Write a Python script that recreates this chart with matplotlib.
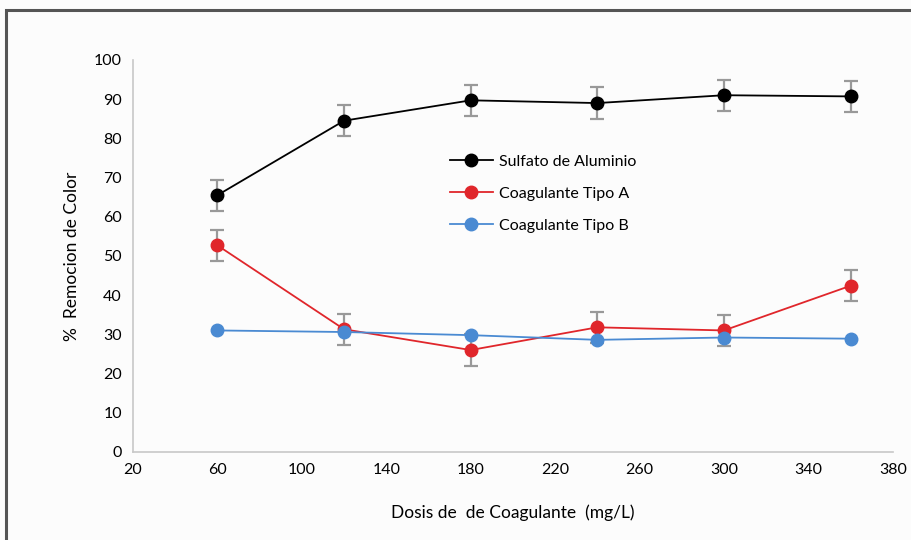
import matplotlib.pyplot as plt
from matplotlib.patches import Rectangle

# Dosis (mg/L)
dosis = [60, 120, 180, 240, 300, 360]

sulfato = [65.5, 84.5, 89.7, 89.0, 91.0, 90.7]
sulfato_err = [4, 4, 4, 4, 4, 4]
tipo_a = [52.7, 31.3, 26.0, 31.8, 31.0, 42.4]
tipo_a_err = [4, 4, 4, 4, 4, 4]
tipo_b = [31.0, 30.6, 29.8, 28.6, 29.2, 28.9]

xticks = [20, 60, 100, 140, 180, 220, 260, 300, 340, 380]
yticks = [0, 10, 20, 30, 40, 50, 60, 70, 80, 90, 100]

plt.rcParams['font.family'] = ['Lato', 'DejaVu Sans']

fig = plt.figure(figsize=(9.11, 5.40), dpi=100, facecolor='#fcfcfc')
ax = fig.add_axes([0.146, 0.163, 0.834, 0.726], facecolor='#fcfcfc')

# marco exterior
fig.patches.append(Rectangle((6 / 911, -0.1), 1.1, 1 - 10 / 540 + 0.1,
                             transform=fig.transFigure, fill=False,
                             edgecolor='#555555', linewidth=2.2, clip_on=False))

ecol = '#999999'
ax.errorbar(dosis, sulfato, yerr=sulfato_err, fmt='none', ecolor=ecol,
            elinewidth=1.6, capsize=5, capthick=1.6, zorder=2)
ax.errorbar(dosis, tipo_a, yerr=tipo_a_err, fmt='none', ecolor=ecol,
            elinewidth=1.6, capsize=5, capthick=1.6, zorder=2)

ax.plot(dosis, sulfato, color='black', marker='o', markersize=9, linewidth=1.3,
        label='Sulfato de Aluminio', zorder=3)
ax.plot(dosis, tipo_a, color='#e0262b', marker='o', markersize=9, linewidth=1.3,
        label='Coagulante Tipo A', zorder=4)
ax.plot(dosis, tipo_b, color='#4a8ad2', marker='o', markersize=9, linewidth=1.3,
        label='Coagulante Tipo B', zorder=5)

ax.set_xlim(20, 380)
ax.set_ylim(0, 100)
ax.set_xticks(xticks)
ax.set_yticks(yticks)
ax.tick_params(length=0, labelsize=11.5, pad=8)

for s in ['top', 'right']:
    ax.spines[s].set_visible(False)
for s in ['left', 'bottom']:
    ax.spines[s].set_color('#c8c8c8')
    ax.spines[s].set_linewidth(1.2)

ax.set_xlabel('Dosis de  de Coagulante  (mg/L)', fontsize=12.5, labelpad=20)
ax.set_ylabel('%  Remocion de Color', fontsize=12.5, labelpad=10)

ax.legend(loc='upper left', bbox_to_anchor=(0.398, 0.795), frameon=False,
          fontsize=11.5, handlelength=2.7, handletextpad=0.4, labelspacing=1.12)

fig.savefig('out.png', dpi=100, facecolor=fig.get_facecolor())
